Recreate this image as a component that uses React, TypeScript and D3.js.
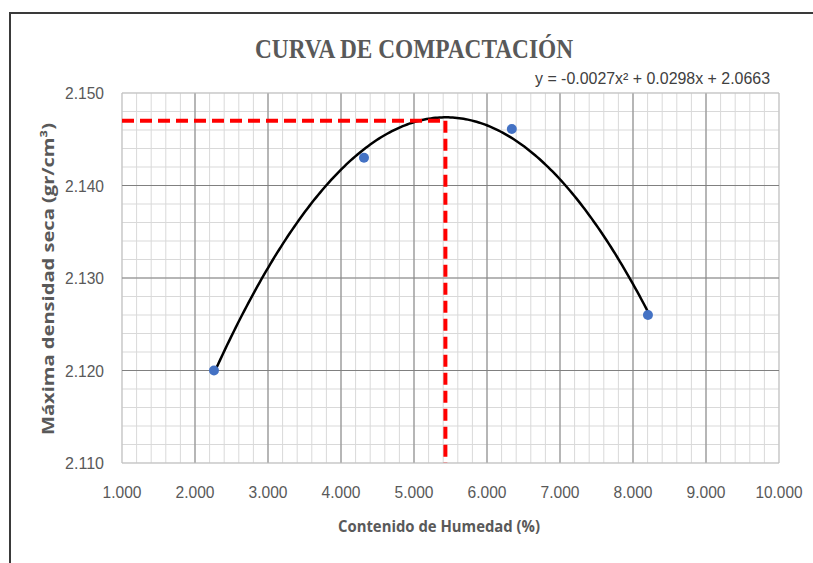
import React from "react";
import * as d3 from "d3";

const moisture = [2.26, 4.315, 6.34, 8.205];
const density = [2.12, 2.143, 2.1461, 2.126];
const xTicks = [1, 2, 3, 4, 5, 6, 7, 8, 9, 10];
const yTicks = [2.11, 2.12, 2.13, 2.14, 2.15];
const optimumMoisture = [5.43];
const maxDensity = [2.147];
const title = "CURVA DE COMPACTACIÓN";
const equation = "y = -0.0027x² + 0.0298x + 2.0663";
const xTitle = "Contenido de Humedad (%)";
const yTitle = "Máxima densidad seca (gr/cm³)";

function fitQuadratic(xs: number[], ys: number[]) {
  const n = xs.length;
  let s0 = n, s1 = 0, s2 = 0, s3 = 0, s4 = 0, t0 = 0, t1 = 0, t2 = 0;
  for (let i = 0; i < n; i++) {
    const x = xs[i], y = ys[i];
    s1 += x; s2 += x * x; s3 += x ** 3; s4 += x ** 4;
    t0 += y; t1 += x * y; t2 += x * x * y;
  }
  const M = [
    [s4, s3, s2, t2],
    [s3, s2, s1, t1],
    [s2, s1, s0, t0],
  ];
  for (let i = 0; i < 3; i++) {
    let p = i;
    for (let r = i + 1; r < 3; r++) if (Math.abs(M[r][i]) > Math.abs(M[p][i])) p = r;
    [M[i], M[p]] = [M[p], M[i]];
    for (let r = 0; r < 3; r++) {
      if (r === i) continue;
      const f = M[r][i] / M[i][i];
      for (let c = i; c < 4; c++) M[r][c] -= f * M[i][c];
    }
  }
  return { a: M[0][3] / M[0][0], b: M[1][3] / M[1][1], c: M[2][3] / M[2][2] };
}

export default function App() {
  const W = 813, H = 563;
  const left = 122, right = 779, top = 93, bottom = 463;
  const x = d3.scaleLinear().domain([1, 10]).range([left, right]);
  const y = d3.scaleLinear().domain([2.11, 2.15]).range([bottom, top]);

  const minorX = d3.range(1, 10.0001, 0.2);
  const minorY = d3.range(2.11, 2.15001, 0.002);

  const { a, b, c } = fitQuadratic(moisture, density);
  const xmin = d3.min(moisture)!, xmax = d3.max(moisture)!;
  const curvePts = d3.range(0, 201).map((i) => {
    const xv = xmin + ((xmax - xmin) * i) / 200;
    return [xv, a * xv * xv + b * xv + c] as [number, number];
  });
  const line = d3.line<[number, number]>().x((d) => x(d[0])).y((d) => y(d[1]));

  const sans = "'Liberation Sans Narrow', 'Arial Narrow', 'Liberation Sans', Arial, sans-serif";
  const bold = "'Open Sans', 'Liberation Sans', sans-serif";
  const gray = "#595959";
  const fmt = d3.format(".3f");

  return (
    <svg width={W} height={H} style={{ position: "absolute", left: 0, top: 0, background: "#fff" }}>
      <rect x={0} y={0} width={W} height={H} fill="#fff" />
      <rect x={10} y={13} width={830} height={600} fill="#fff" stroke="#3a3a3a" strokeWidth={2} />
      <text x={414} y={58} textAnchor="middle" fontFamily="'Liberation Serif', 'Times New Roman', serif" fontWeight="bold" fontSize={28} fill={gray} textLength={318} lengthAdjust="spacingAndGlyphs">{title}</text>
      <text x={770} y={84} textAnchor="end" fontFamily={sans} fontSize={16} fill="#404040" textLength={235} lengthAdjust="spacingAndGlyphs">{equation}</text>

      {minorX.map((v, i) => (
        <line key={"mx" + i} x1={x(v)} x2={x(v)} y1={top} y2={bottom} stroke="#d9d9d9" strokeWidth={1} />
      ))}
      {minorY.map((v, i) => (
        <line key={"my" + i} x1={left} x2={right} y1={y(v)} y2={y(v)} stroke="#d9d9d9" strokeWidth={1} />
      ))}
      {xTicks.map((v) => (
        <line key={"Mx" + v} x1={x(v)} x2={x(v)} y1={top} y2={bottom} stroke={v === 1 || v === 10 ? "#bfbfbf" : "#808080"} strokeWidth={1} />
      ))}
      {yTicks.map((v) => (
        <line key={"My" + v} x1={left} x2={right} y1={y(v)} y2={y(v)} stroke={v === 2.11 || v === 2.15 ? "#bfbfbf" : "#808080"} strokeWidth={1} />
      ))}

      {xTicks.map((v) => (
        <text key={"xt" + v} x={x(v)} y={498} textAnchor="middle" fontFamily={sans} fontSize={17} fill={gray} textLength={v >= 10 ? 47 : 39} lengthAdjust="spacingAndGlyphs">{fmt(v)}</text>
      ))}
      {yTicks.map((v) => (
        <text key={"yt" + v} x={104} y={y(v) + 6} textAnchor="end" fontFamily={sans} fontSize={17} fill={gray} textLength={39} lengthAdjust="spacingAndGlyphs">{fmt(v)}</text>
      ))}

      <text x={439} y={532} textAnchor="middle" fontFamily={bold} fontWeight="bold" fontSize={16} fill={gray} textLength={202} lengthAdjust="spacingAndGlyphs">{xTitle}</text>
      <text transform={`translate(54,${279}) rotate(-90)`} textAnchor="middle" fontFamily={bold} fontWeight="bold" fontSize={16} fill={gray} textLength={312} lengthAdjust="spacingAndGlyphs">{yTitle}</text>

      <path d={line(curvePts) || ""} fill="none" stroke="#000" strokeWidth={2.5} />

      {optimumMoisture.map((om, i) => (
        <g key={"opt" + i}>
          <line x1={x(1)} x2={x(om)} y1={y(maxDensity[i])} y2={y(maxDensity[i])} stroke="#ff0000" strokeWidth={4} strokeDasharray="12,6" />
          <line x1={x(om)} x2={x(om)} y1={y(maxDensity[i])} y2={bottom} stroke="#ff0000" strokeWidth={4} strokeDasharray="12,6" />
        </g>
      ))}

      {moisture.map((m, i) => (
        <circle key={"p" + i} cx={x(m)} cy={y(density[i])} r={5} fill="#4472c4" />
      ))}
    </svg>
  );
}
